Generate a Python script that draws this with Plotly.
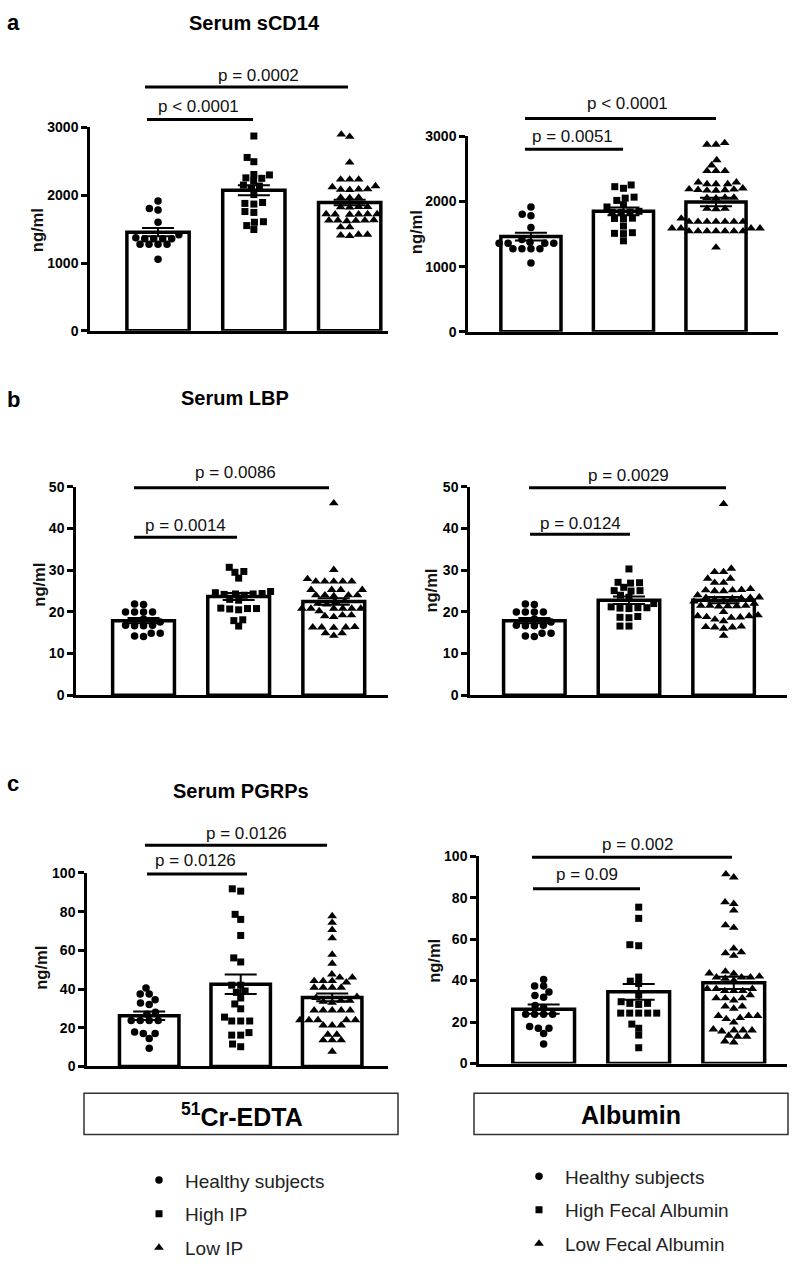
import math
import plotly.graph_objects as go

W, H = 800, 1268

# ------------------------------------------------------------------ data
groups_ip = ["Healthy subjects", "High IP", "Low IP"]
groups_alb = ["Healthy subjects", "High Fecal Albumin", "Low Fecal Albumin"]

# Serum sCD14 (ng/ml)
scd14_healthy = [1917, 1806, 1781, 1602, 1417, 1375, 1360, 1360, 1360, 1360,
                 1277, 1277, 1277, 1277, 1058]
scd14_high_ip = [2874, 2558, 2495, 2306, 2300, 2257, 2250, 2209, 2150, 2136, 2100,
                 2010, 1893, 1880, 1870, 1760, 1747, 1610, 1602, 1553, 1495]
scd14_low_ip = [2898, 2864, 2485, 2233, 2233, 2233, 2136, 2121, 2090, 2087, 2085,
                2080, 1966, 1966, 1960, 1830, 1830, 1825, 1820, 1723, 1723, 1723,
                1720, 1720, 1715, 1630, 1630, 1630, 1625, 1620, 1635, 1530, 1530,
                1420, 1420, 1410, 1400]
scd14_high_alb = [2254, 2228, 2203, 2067, 2052, 2017, 1951, 1916, 1850, 1840, 1835,
                  1830, 1745, 1740, 1735, 1623, 1522, 1512, 1507, 1397]
scd14_low_alb = [2900, 2874, 2874, 2637, 2556, 2470, 2470, 2470, 2294, 2294, 2269,
                 2269, 2269, 2203, 2190, 2185, 2180, 2175, 2170, 2168, 2060, 2060,
                 2055, 2050, 1890, 1890, 1885, 1740, 1690, 1690, 1690, 1690, 1690,
                 1690, 1690, 1590, 1590, 1590, 1590, 1545, 1545, 1545, 1545, 1545,
                 1545, 1545, 1296]
scd14_mean_ip = [1456, 2073, 1893]
scd14_sem_ip = [60, 73, 42]
scd14_mean_alb = [1462, 1850, 1992]
scd14_sem_alb = [60, 60, 65]
scd14_ticks = [0, 1000, 2000, 3000]

# Serum LBP (ng/ml)
lbp_healthy = [21.9, 21.8, 20.0, 20.0, 20.0, 20.0, 18.3, 17.6, 16.8, 16.8, 16.7,
               16.7, 14.9, 14.2, 14.1, 14.9]
lbp_high_ip = [30.7, 29.7, 29.5, 28.1, 24.9, 24.6, 24.4, 24.3, 24.3, 24.2, 24.0,
               23.0, 22.8, 20.9, 20.8, 20.8, 20.7, 20.5, 18.1, 17.9, 16.6]
lbp_low_ip = [46.1, 30.1, 27.9, 27.3, 27.3, 27.3, 27.3, 27.3, 25.3, 25.3, 25.3,
              25.3, 24.0, 24.0, 24.0, 24.0, 23.8, 22.6, 22.3, 22.0, 21.8, 20.8,
              20.8, 20.8, 20.8, 20.8, 20.8, 19.2, 19.2, 19.0, 18.8, 16.3, 16.3,
              16.2, 16.3, 16.4, 14.9, 14.9, 14.3, 20.2]
lbp_high_alb = [30.3, 27.1, 27.0, 26.9, 25.9, 25.1, 25.1, 25.0, 24.0, 23.5, 22.0,
                21.0, 21.0, 21.2, 20.8, 20.9, 18.6, 18.9, 18.7, 16.6, 16.6]
lbp_low_alb = [45.9, 30.4, 29.6, 29.6, 28.0, 27.0, 27.0, 28.0, 25.0, 25.0, 25.2,
               25.2, 25.3, 25.5, 24.0, 23.5, 23.4, 23.4, 23.3, 23.2, 23.0, 22.8,
               22.5, 21.5, 21.5, 21.5, 21.4, 21.4, 21.3, 19.2, 19.0, 19.0, 18.8,
               18.7, 18.6, 16.3, 16.0, 16.3, 16.5, 16.4, 14.3, 20.0, 22.0, 17.8, 18.2]
lbp_mean_ip = [17.9, 23.7, 22.5]
lbp_sem_ip = [0.65, 0.85, 0.8]
lbp_mean_alb = [17.9, 22.8, 22.8]
lbp_sem_alb = [0.65, 0.9, 0.75]
lbp_ticks = [0, 10, 20, 30, 40, 50]

# Serum PGRPs (ng/ml)
pgrp_healthy = [40.5, 37.4, 37.4, 34.5, 32.8, 32.0, 28.0, 27.0, 23.8, 23.8, 23.8,
                23.8, 17.8, 17.0, 17.0, 14.5, 9.4]
pgrp_high_ip = [91.8, 90.6, 78.6, 76.0, 67.7, 56.1, 54.0, 42.0, 42.0, 39.0, 38.3,
                35.4, 32.3, 29.8, 25.5, 23.5, 23.5, 23.5, 17.5, 16.2, 16.2, 11.6, 10.2]
pgrp_low_ip = [77.7, 74.3, 70.6, 66.3, 57.8, 53.2, 47.6, 46.0, 46.0, 44.2, 44.2,
               44.2, 43.5, 40.8, 40.8, 40.8, 40.8, 36.0, 35.5, 34.0, 34.0, 33.5,
               33.0, 29.0, 29.0, 29.0, 29.0, 29.0, 24.0, 24.0, 24.0, 24.0, 24.0,
               21.3, 21.3, 21.3, 16.5, 16.5, 13.6, 13.6, 13.6, 7.7]
pgrp_high_alb = [75.4, 70.0, 57.3, 56.8, 41.7, 39.7, 38.6, 33.0, 29.8, 29.0, 29.0,
                 28.5, 24.3, 24.3, 24.3, 24.3, 24.3, 19.0, 17.0, 13.7, 7.6]
pgrp_low_alb = [91.3, 89.8, 77.8, 77.0, 73.8, 66.7, 65.5, 55.5, 53.7, 53.2, 52.0,
                44.4, 43.3, 43.5, 42.0, 41.6, 41.6, 41.6, 41.0, 40.0, 36.0, 36.0,
                36.0, 35.0, 35.0, 35.0, 33.0, 31.5, 31.5, 31.5, 30.5, 27.5, 27.5,
                26.5, 23.0, 23.0, 22.0, 21.5, 23.0, 19.8, 16.0, 16.0, 16.0, 16.5,
                15.5, 13.0, 13.0, 13.5, 10.7, 10.2]
pgrp_mean_ip = [26.2, 42.5, 35.7]
pgrp_sem_ip = [2.2, 5.0, 2.0]
pgrp_mean_alb = [26.2, 34.6, 38.9]
pgrp_sem_alb = [2.2, 3.8, 3.0]
pgrp_ticks = [0, 20, 40, 60, 80, 100]

# p-values (short comparison, long comparison)
p_scd14_ip = ["p < 0.0001", "p = 0.0002"]
p_scd14_alb = ["p = 0.0051", "p < 0.0001"]
p_lbp_ip = ["p = 0.0014", "p = 0.0086"]
p_lbp_alb = ["p = 0.0124", "p = 0.0029"]
p_pgrp_ip = ["p = 0.0126", "p = 0.0126"]
p_pgrp_alb = ["p = 0.09", "p = 0.002"]

panel_titles = ["Serum sCD14", "Serum LBP", "Serum PGRPs"]
panel_letters = ["a", "b", "c"]
box_labels = ["<sup>51</sup>Cr-EDTA", "Albumin"]
y_label = "ng/ml"

# ------------------------------------------------------------------ layout specs (pixels)
FONT = "Arial, Liberation Sans, Helvetica, sans-serif"

panels = [
    dict(vals=[scd14_healthy, scd14_high_ip, scd14_low_ip], mean=scd14_mean_ip, sem=scd14_sem_ip,
         ticks=scd14_ticks, p=p_scd14_ip, names=groups_ip,
         box=(90, 388, 121, 327), xr=(-0.71, 2.40),
         short=(147, 253, 113, 198, 100), long=(145, 348, 80, 258, 68), ylab=(37, 225)),
    dict(vals=[scd14_healthy, scd14_high_alb, scd14_low_alb], mean=scd14_mean_alb, sem=scd14_sem_alb,
         ticks=scd14_ticks, p=p_scd14_alb, names=groups_alb,
         box=(468, 778, 130, 328), xr=(-0.68, 2.67),
         short=(525, 623, 143, 572, 130), long=(525, 716, 112, 627, 97), ylab=(416, 227)),
    dict(vals=[lbp_healthy, lbp_high_ip, lbp_low_ip], mean=lbp_mean_ip, sem=lbp_sem_ip,
         ticks=lbp_ticks, p=p_lbp_ip, names=groups_ip,
         box=(76, 388, 485, 696), xr=(-0.71, 2.57),
         short=(134, 237, 536, 185, 524), long=(134, 329, 486, 235, 470), ylab=(39, 584)),
    dict(vals=[lbp_healthy, lbp_high_alb, lbp_low_alb], mean=lbp_mean_alb, sem=lbp_sem_alb,
         ticks=lbp_ticks, p=p_lbp_alb, names=groups_alb,
         box=(470, 787, 485, 696), xr=(-0.68, 2.67),
         short=(530, 630, 533, 580, 522), long=(529, 726, 486, 628, 473), ylab=(431, 590)),
    dict(vals=[pgrp_healthy, pgrp_high_ip, pgrp_low_ip], mean=pgrp_mean_ip, sem=pgrp_sem_ip,
         ticks=pgrp_ticks, p=p_pgrp_ip, names=groups_ip,
         box=(87, 388, 876, 1072), xr=(-0.68, 2.61),
         short=(147, 247, 877, 195, 863), long=(145, 327, 848, 246, 836), ylab=(41, 972),
         legend="legend"),
    dict(vals=[pgrp_healthy, pgrp_high_alb, pgrp_low_alb], mean=pgrp_mean_alb, sem=pgrp_sem_alb,
         ticks=pgrp_ticks, p=p_pgrp_alb, names=groups_alb,
         box=(479, 787, 859, 1069), xr=(-0.68, 2.56),
         short=(533, 640, 892, 587, 878), long=(532, 732, 860, 637, 847), ylab=(434, 965),
         legend="legend2"),
]

symbols = ["circle", "square", "triangle-up"]
msizes = [7.5, 7, 8.5]


def swarm(values, px_per_unit, dx_min, dy_min):
    """Beeswarm offsets (pixels) so markers do not overlap (elliptical spacing)."""
    order = sorted(range(len(values)), key=lambda i: values[i])
    placed = []
    offs = [0.0] * len(values)

    def ok(c, y):
        return all(((c - px) / dx_min) ** 2 + ((y - py) / dy_min) ** 2 >= 1 - 1e-6
                   for px, py in placed)

    for i in order:
        y = values[i] * px_per_unit
        cands = [0.0]
        for (px, py) in placed:
            dy = y - py
            if abs(dy) < dy_min:
                dx = dx_min * math.sqrt(1 - (dy / dy_min) ** 2)
                cands += [px + dx, px - dx]
        cands.sort(key=lambda c: (abs(c), c))
        for c in cands:
            if ok(c, y):
                offs[i] = c
                break
        placed.append((offs[i], y))
    return offs


def P(px, py):
    return px / W, 1 - py / H


fig = go.Figure()
layout = dict(width=W, height=H, margin=dict(l=0, r=0, t=0, b=0),
              paper_bgcolor="white", plot_bgcolor="rgba(0,0,0,0)",
              font=dict(family=FONT, color="black"), showlegend=True)
shapes, annots = [], []

for k, pn in enumerate(panels):
    sfx = "" if k == 0 else str(k + 1)
    xa, ya = "x" + sfx, "y" + sfx
    x0, x1, top, bot = pn["box"]
    ymax = pn["ticks"][-1]
    layout["xaxis" + sfx] = dict(domain=[x0 / W, x1 / W], range=list(pn["xr"]), anchor=ya,
                                 showline=True, linecolor="black", linewidth=2.5,
                                 ticks="", showticklabels=False, showgrid=False, zeroline=False,
                                 fixedrange=True)
    layout["yaxis" + sfx] = dict(domain=[1 - bot / H, 1 - top / H], range=[0, ymax], anchor=xa,
                                 showline=True, linecolor="black", linewidth=2.5,
                                 ticks="outside", ticklen=6, tickwidth=2.5, tickcolor="black",
                                 tickvals=pn["ticks"], ticktext=[str(t) for t in pn["ticks"]],
                                 tickfont=dict(size=14, family=FONT, weight="bold"),
                                 showgrid=False, zeroline=False, fixedrange=True)
    fig.add_trace(go.Bar(x=[0, 1, 2], y=pn["mean"], width=0.65, xaxis=xa, yaxis=ya,
                         marker=dict(color="white", line=dict(color="black", width=3.5)),
                         error_y=dict(type="data", array=pn["sem"], color="black",
                                      thickness=2, width=16),
                         showlegend=False, hoverinfo="skip"))
    px_unit = (bot - top) / ymax
    px_cat = (x1 - x0) / (pn["xr"][1] - pn["xr"][0])
    for g in range(3):
        vals = pn["vals"][g]
        offs = swarm(vals, px_unit, 9.0, 6.5)
        fig.add_trace(go.Scatter(
            x=[g + o / px_cat for o in offs], y=vals, mode="markers", xaxis=xa, yaxis=ya,
            name=pn["names"][g], legendgroup="%s-%d" % (pn.get("legend", "none"), g),
            marker=dict(symbol=symbols[g], size=msizes[g], color="black", line=dict(width=0)),
            showlegend="legend" in pn, legend=pn.get("legend", "legend"), cliponaxis=False))
    # significance bars
    for (lx0, lx1, ly, tx, ty), txt in zip([pn["short"], pn["long"]], pn["p"]):
        a0, b0 = P(lx0, ly)
        a1, _ = P(lx1, ly)
        shapes.append(dict(type="line", xref="paper", yref="paper", x0=a0, x1=a1, y0=b0, y1=b0,
                           line=dict(color="black", width=3)))
        tx_, ty_ = P(tx, ty)
        annots.append(dict(text=txt, xref="paper", yref="paper", x=tx_, y=ty_, showarrow=False,
                           xanchor="center", yanchor="middle",
                           font=dict(size=17, family=FONT, color="#111")))
    lx, ly = P(*pn["ylab"])
    annots.append(dict(text="<b>%s</b>" % y_label, xref="paper", yref="paper", x=lx, y=ly,
                       showarrow=False, textangle=-90, xanchor="center", yanchor="middle",
                       font=dict(size=16.5, family=FONT, color="#111")))

# panel letters and titles
for letter, title, ly, ty, tx in zip(panel_letters, panel_titles, [15, 396, 785], [15, 395, 793],
                                     [254, 235, 241]):
    x_, y_ = P(13, ly)
    annots.append(dict(text="<b>%s</b>" % letter, xref="paper", yref="paper", x=x_, y=y_,
                       showarrow=False, xanchor="center", yanchor="middle",
                       font=dict(size=22, family=FONT)))
    x_, y_ = P(tx, ty)
    annots.append(dict(text="<b>%s</b>" % title, xref="paper", yref="paper", x=x_, y=y_,
                       showarrow=False, xanchor="center", yanchor="middle",
                       font=dict(size=20, family=FONT)))

# boxes with grouping labels
for (bx0, bx1), cx, lab in zip([(84, 398), (474, 788)], [242, 631], box_labels):
    a0, b0 = P(bx0, 1141)
    a1, b1 = P(bx1, 1099)
    shapes.append(dict(type="rect", xref="paper", yref="paper", x0=a0, x1=a1, y0=b0, y1=b1,
                       line=dict(color="#333", width=1.5), fillcolor="rgba(0,0,0,0)"))
    x_, y_ = P(cx, 1121)
    annots.append(dict(text="<b>%s</b>" % lab, xref="paper", yref="paper", x=x_, y=y_,
                       showarrow=False, xanchor="center", yanchor="middle",
                       font=dict(size=25, family=FONT)))

leg_common = dict(xanchor="left", yanchor="top", bgcolor="rgba(0,0,0,0)", borderwidth=0,
                  font=dict(size=19, family=FONT, color="#222"), itemsizing="trace",
                  orientation="v", traceorder="grouped", tracegroupgap=6, itemwidth=42)
lx, ly = P(133, 1168)
layout["legend"] = dict(x=lx, y=ly, **leg_common)
lx, ly = P(513, 1164)
layout["legend2"] = dict(x=lx, y=ly, **leg_common)

layout["shapes"] = shapes
layout["annotations"] = annots
fig.update_layout(**layout)
# the page body gets no default 8px margin so that the 800x1268 figure fills the window exactly
fig.write_html("out.html", config={"displayModeBar": False},
               post_script="document.body.style.margin='0';document.body.style.overflow='hidden';")
